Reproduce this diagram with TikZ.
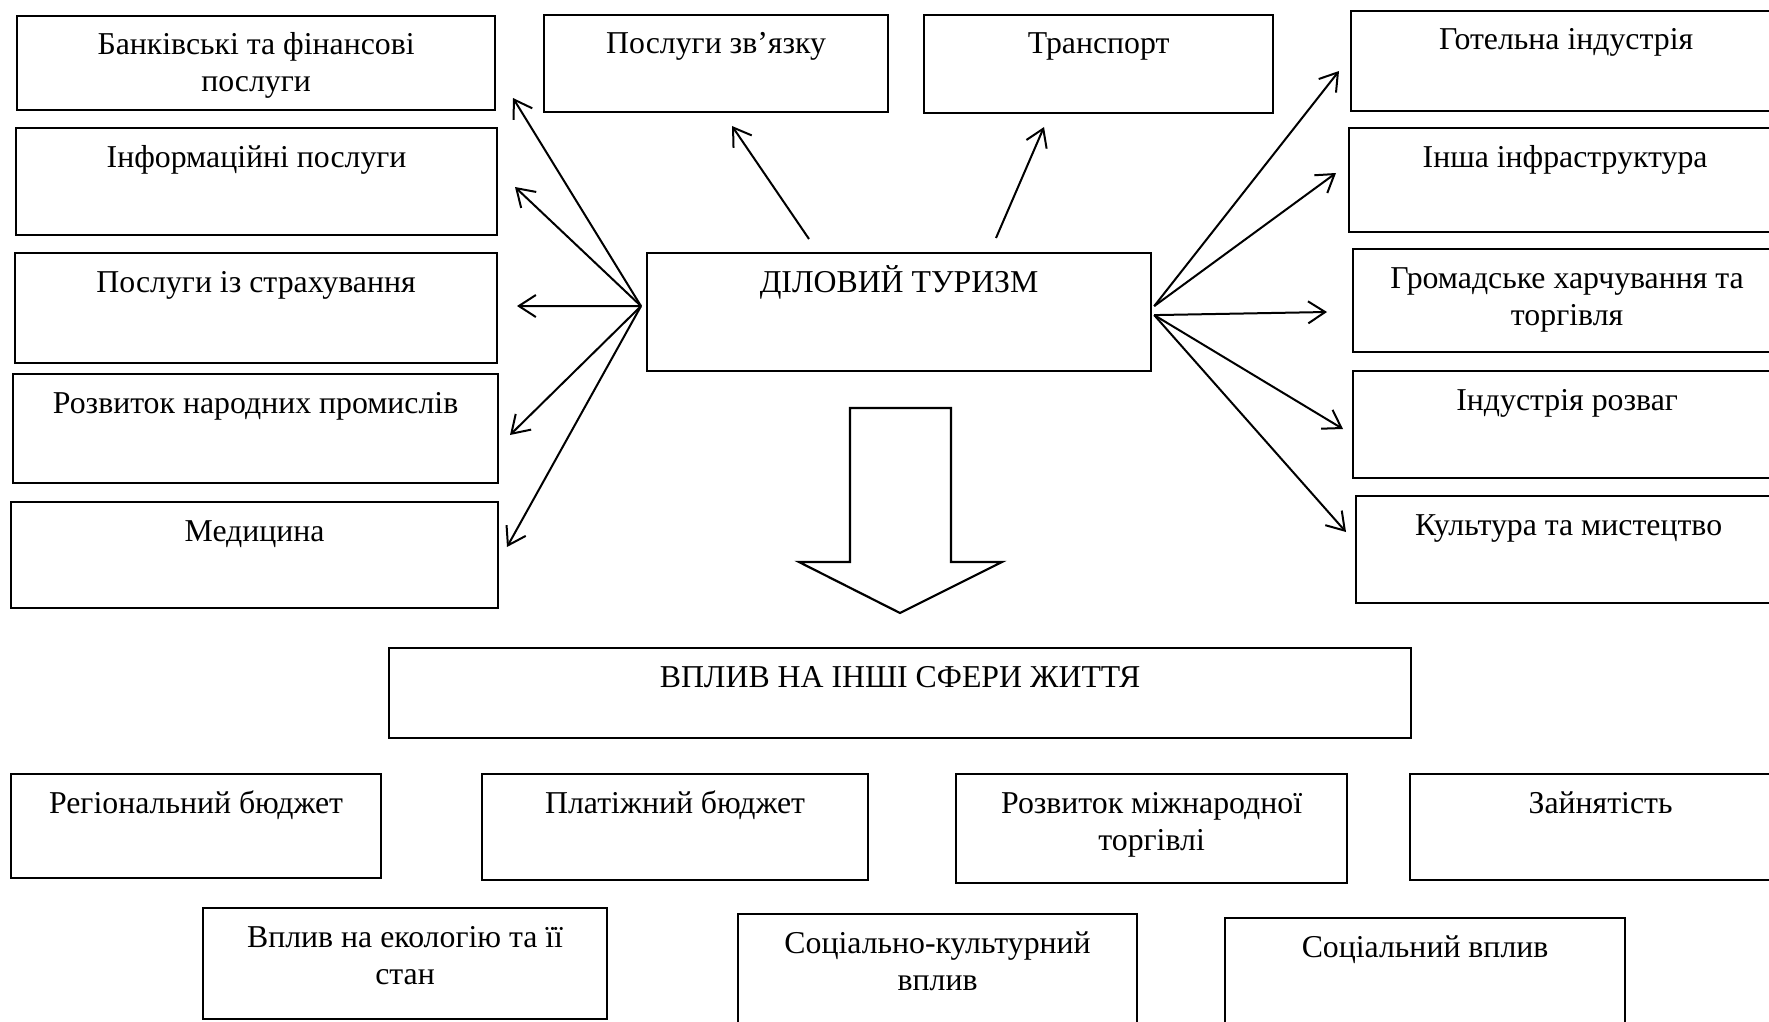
\documentclass[tikz,border=0pt]{standalone}
\usepackage{fontspec}
\setmainfont{Liberation Serif}
\usetikzlibrary{arrows.meta,calc}
\newcommand\two[2]{\vtop{\baselineskip=37pt\halign{\hfil##\hfil\cr#1\cr#2\cr}}}
\newcommand\mybox[6]{%
  \node[box, anchor=north west, minimum width={#4-#2}, minimum height={#5-#3}] (#1) at (#2,#3) {};
  \node[lbl, anchor=base] (#1-t) at ($(#1.north)+(0,40)$) {#6};
}
\begin{document}
\begin{tikzpicture}[x=1pt,y=-1pt,
  box/.style={draw=black, line width=2.2pt, inner sep=0pt, rectangle},
  lbl/.style={inner sep=0pt, font=\fontsize{31.8}{37}\selectfont},
  arr/.style={draw=black, line width=2pt, -{Straight Barb[length=17pt,width=22pt]}},
  blockarrow/.style={draw=black, line width=2.2pt, line join=miter, fill=white}]
\useasboundingbox (0,0) rectangle (1769,1022);
\fill[white] (0,0) rectangle (1769,1022);
\clip (0,0) rectangle (1769,1022);
% left column
\mybox{bank}{16}{15}{494}{109}{\two{Банківські та фінансові}{послуги}}
\mybox{info}{15}{127}{496}{234}{Інформаційні послуги}
\mybox{insur}{14}{252}{496}{362}{Послуги із страхування}
\mybox{promysl}{12}{373}{497}{482}{Розвиток народних промислів}
\mybox{medic}{10}{501}{497}{607}{Медицина}
% top
\mybox{zv}{543}{14}{887}{111}{Послуги зв’язку}
\mybox{transp}{923}{14}{1272}{112}{Транспорт}
\mybox{main}{646}{252}{1150}{370}{ДІЛОВИЙ ТУРИЗМ}
% right column
\mybox{hotel}{1350}{10}{1780}{110}{Готельна індустрія}
\mybox{insha}{1348}{127}{1780}{231}{Інша інфраструктура}
\mybox{hromad}{1352}{248}{1780}{351}{\two{Громадське харчування та}{торгівля}}
\mybox{rozvah}{1352}{370}{1780}{477}{Індустрія розваг}
\mybox{kult}{1355}{495}{1780}{602}{Культура та мистецтво}
% bottom
\mybox{vplyv}{388}{647}{1410}{737}{ВПЛИВ НА ІНШІ СФЕРИ ЖИТТЯ}
\mybox{rehion}{10}{773}{380}{877}{Регіональний бюджет}
\mybox{platizh}{481}{773}{867}{879}{Платіжний бюджет}
\mybox{mizhnar}{955}{773}{1346}{882}{\two{Розвиток міжнародної}{торгівлі}}
\mybox{zainiat}{1409}{773}{1790}{879}{Зайнятість}
\mybox{ekol}{202}{907}{606}{1018}{\two{Вплив на екологію та її}{стан}}
\mybox{sockult}{737}{913}{1136}{1035}{\two{Соціально-культурний}{вплив}}
\mybox{socvpl}{1224}{917}{1624}{1035}{Соціальний вплив}
% arrow origins and tips
\coordinate (L) at ($(main.west)+(-5,-6)$);
\coordinate (R1) at ($(main.east)+(2,-6)$);
\coordinate (R2) at ($(main.east)+(2,3)$);
\coordinate (tbank) at (513,98);
\coordinate (tinfo) at (515,187);
\coordinate (tinsur) at (517,306);
\coordinate (tpromysl) at (510,435);
\coordinate (tmedic) at (507,547);
\coordinate (szv) at (809,239);
\coordinate (tzv) at (732,126);
\coordinate (stransp) at (996,238);
\coordinate (ttransp) at (1044,127);
\coordinate (thotel) at (1339,71);
\coordinate (tinsha) at (1336,173);
\coordinate (thromad) at (1327,312);
\coordinate (trozvah) at (1343,429);
\coordinate (tkult) at (1346,532);
\draw[arr] (L) -- (tbank);
\draw[arr] (L) -- (tinfo);
\draw[arr] (L) -- (tinsur);
\draw[arr] (L) -- (tpromysl);
\draw[arr] (L) -- (tmedic);
\draw[arr] (szv) -- (tzv);
\draw[arr] (stransp) -- (ttransp);
\draw[arr] (R1) -- (thotel);
\draw[arr] (R1) -- (tinsha);
\draw[arr] (R2) -- (thromad);
\draw[arr] (R2) -- (trozvah);
\draw[arr] (R2) -- (tkult);
% block arrow
\draw[blockarrow] (850,408) -- (951,408) -- (951,562) -- (1002,562) -- (900,613) -- (799,562) -- (850,562) -- cycle;
\end{tikzpicture}
\end{document}
